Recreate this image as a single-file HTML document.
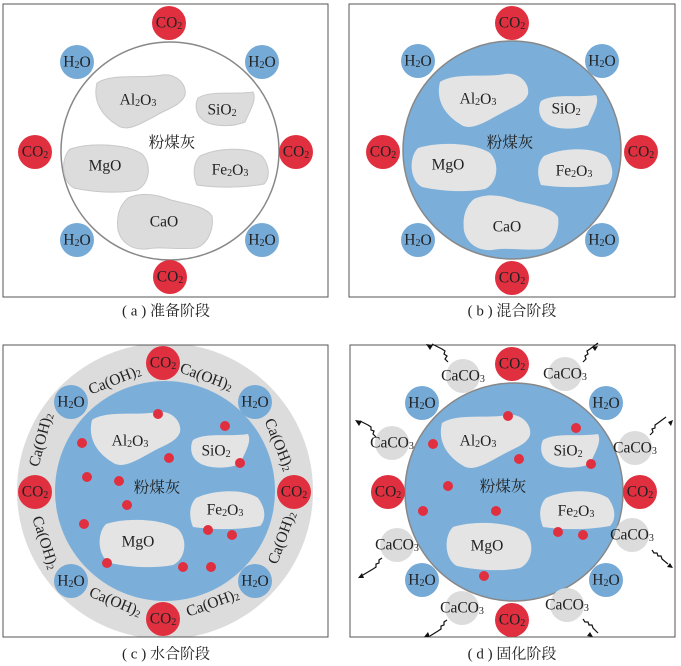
<!DOCTYPE html>
<html><head><meta charset="utf-8"><style>
html,body{margin:0;padding:0;background:#fff;width:681px;height:666px;overflow:hidden}
svg{display:block}
text{font-family:"Liberation Serif","Noto Serif CJK SC",serif;font-size:15.5px;fill:#222;text-anchor:middle;dominant-baseline:middle}
.cap{font-size:15px}
.s{font-size:10px}
</style></head><body>
<svg width="681" height="666" viewBox="0 0 681 666" xmlns="http://www.w3.org/2000/svg">
<defs>
<clipPath id="cb"><rect x="3" y="345" width="325" height="292"/></clipPath>
<path id="al" d="M5,10 C20,0 50,6 70,2 C85,0 95,12 93,22 C90,32 75,36 65,42 C50,50 35,60 25,52 C12,44 0,30 5,10Z"/>
<path id="si" d="M3,8 C15,0 40,5 58,2 C62,10 55,20 50,32 C35,38 15,36 8,30 C0,24 0,14 3,8Z"/>
<path id="mg" d="M8,5 C30,-2 65,0 80,10 C90,20 88,40 75,46 C55,50 30,48 12,44 C0,38 -2,15 8,5Z"/>
<path id="fe" d="M8,8 C25,0 55,-2 70,8 C78,18 78,30 72,36 C50,40 25,40 5,37 C0,25 2,14 8,8Z"/>
<path id="ca" d="M12,4 C25,-2 40,0 55,6 C70,10 90,12 96,22 C98,35 92,50 80,54 C60,56 45,52 30,55 C15,56 5,48 2,36 C0,20 5,10 12,4Z"/>
<g id="co2"><circle r="17" fill="#e03040"/><text y="1">CO<tspan class="s" dy="3">2</tspan></text></g>
<g id="h2o"><circle r="17" fill="#75a9d6"/><text y="1">H<tspan class="s" dy="3">2</tspan><tspan dy="-3">O</tspan></text></g>
<g id="cc"><circle r="17" fill="#dcdcdc"/><text y="1">CaCO<tspan class="s" dy="3">3</tspan></text></g>
<circle id="d" r="5" fill="#e03040"/>
</defs>

<!-- Panel a -->
<rect x="3" y="4" width="325" height="293" fill="#fff" stroke="#555" stroke-width="1"/>
<circle cx="170" cy="151" r="109" fill="#fff" stroke="#888" stroke-width="1.5"/>
<use href="#al" x="92" y="73" fill="#dcdcdc" stroke="#c8c8c8"/>
<use href="#si" x="195" y="90" fill="#dcdcdc" stroke="#c8c8c8"/>
<use href="#mg" x="62" y="144" fill="#dcdcdc" stroke="#c8c8c8"/>
<use href="#fe" x="192" y="148" fill="#dcdcdc" stroke="#c8c8c8"/>
<use href="#ca" x="116" y="194" fill="#dcdcdc" stroke="#c8c8c8"/>
<text x="138" y="101">Al<tspan class="s" dy="3">2</tspan><tspan dy="-3">O</tspan><tspan class="s" dy="3">3</tspan></text>
<text x="222" y="111">SiO<tspan class="s" dy="3">2</tspan></text>
<text x="105" y="167">MgO</text>
<text x="230" y="171">Fe<tspan class="s" dy="3">2</tspan><tspan dy="-3">O</tspan><tspan class="s" dy="3">3</tspan></text>
<text x="164" y="223">CaO</text>
<text x="172" y="144">粉煤灰</text>
<use href="#co2" x="169" y="23"/><use href="#co2" x="35" y="152"/><use href="#co2" x="296" y="152"/><use href="#co2" x="170" y="277"/>
<use href="#h2o" x="77" y="62"/><use href="#h2o" x="262" y="62"/><use href="#h2o" x="77" y="240"/><use href="#h2o" x="262" y="240"/>
<text class="cap" x="166" y="312">( a )  准备阶段</text>

<!-- Panel b -->
<rect x="349" y="4" width="326" height="293" fill="#fff" stroke="#555"/>
<circle cx="512" cy="150" r="109" fill="#7bafd9" stroke="#888" stroke-width="1.5"/>
<use href="#al" x="435" y="72" fill="#e4e4e4"/>
<use href="#si" x="538" y="93" fill="#e4e4e4"/>
<use href="#mg" x="410" y="143" fill="#e4e4e4"/>
<use href="#fe" x="536" y="148" fill="#e4e4e4"/>
<use href="#ca" x="462" y="195" fill="#e4e4e4"/>
<text x="478" y="100">Al<tspan class="s" dy="3">2</tspan><tspan dy="-3">O</tspan><tspan class="s" dy="3">3</tspan></text>
<text x="566" y="110">SiO<tspan class="s" dy="3">2</tspan></text>
<text x="448" y="166">MgO</text>
<text x="574" y="172">Fe<tspan class="s" dy="3">2</tspan><tspan dy="-3">O</tspan><tspan class="s" dy="3">3</tspan></text>
<text x="507" y="228">CaO</text>
<text x="510" y="144">粉煤灰</text>
<use href="#co2" x="512" y="23"/><use href="#co2" x="383" y="152"/><use href="#co2" x="641" y="152"/><use href="#co2" x="512" y="278"/>
<use href="#h2o" x="418" y="61"/><use href="#h2o" x="602" y="61"/><use href="#h2o" x="418" y="240"/><use href="#h2o" x="602" y="240"/>
<text class="cap" x="512" y="312">( b ) 混合阶段</text>

<!-- Panel c -->
<rect x="3" y="345" width="325" height="292" fill="#fff"/>
<circle cx="165" cy="491" r="148" fill="#dcdcdc" clip-path="url(#cb)"/>
<rect x="3" y="345" width="325" height="292" fill="none" stroke="#555"/>
<circle cx="165" cy="491" r="110" fill="#7bafd9"/>
<use href="#al" x="87" y="410" fill="#e4e4e4"/>
<use href="#si" x="190" y="432" fill="#e4e4e4"/>
<use href="#fe" x="188" y="490" fill="#e4e4e4"/>
<use href="#mg" x="98" y="519" fill="#e4e4e4"/>
<text x="130" y="442">Al<tspan class="s" dy="3">2</tspan><tspan dy="-3">O</tspan><tspan class="s" dy="3">3</tspan></text>
<text x="216" y="452">SiO<tspan class="s" dy="3">2</tspan></text>
<text x="225" y="511">Fe<tspan class="s" dy="3">2</tspan><tspan dy="-3">O</tspan><tspan class="s" dy="3">3</tspan></text>
<text x="138" y="543">MgO</text>
<text x="157" y="489">粉煤灰</text>
<use href="#d" x="158" y="414"/><use href="#d" x="82" y="443"/><use href="#d" x="169" y="458"/><use href="#d" x="87" y="477"/><use href="#d" x="119" y="481"/><use href="#d" x="127" y="505"/><use href="#d" x="84" y="524"/><use href="#d" x="225" y="426"/><use href="#d" x="240" y="463"/><use href="#d" x="208" y="530"/><use href="#d" x="232" y="535"/><use href="#d" x="107" y="563"/><use href="#d" x="183" y="567"/><use href="#d" x="211" y="567"/>
<use href="#co2" x="163" y="363"/><use href="#co2" x="35" y="492"/><use href="#co2" x="294" y="492"/><use href="#co2" x="163" y="619"/>
<use href="#h2o" x="71" y="402"/><use href="#h2o" x="255" y="402"/><use href="#h2o" x="71" y="581"/><use href="#h2o" x="255" y="581"/>
<text transform="translate(115,381) rotate(-22)">Ca(OH)<tspan class="s" dy="3">2</tspan></text>
<text transform="translate(206,378) rotate(20)">Ca(OH)<tspan class="s" dy="3">2</tspan></text>
<text transform="translate(278,445) rotate(68)">Ca(OH)<tspan class="s" dy="3">2</tspan></text>
<text transform="translate(283,538) rotate(-70)">Ca(OH)<tspan class="s" dy="3">2</tspan></text>
<text transform="translate(42,440) rotate(-75)">Ca(OH)<tspan class="s" dy="3">2</tspan></text>
<text transform="translate(44,543) rotate(72)">Ca(OH)<tspan class="s" dy="3">2</tspan></text>
<text transform="translate(115,603) rotate(22)">Ca(OH)<tspan class="s" dy="3">2</tspan></text>
<text transform="translate(213,604) rotate(-20)">Ca(OH)<tspan class="s" dy="3">2</tspan></text>
<text class="cap" x="166" y="655">( c )  水合阶段</text>

<!-- Panel d -->
<rect x="350" y="345" width="325" height="292" fill="#fff" stroke="#555"/>
<circle cx="514" cy="492" r="109" fill="#7bafd9" stroke="#888" stroke-width="1.5"/>
<use href="#al" x="437" y="413" fill="#e4e4e4"/>
<use href="#si" x="540" y="432" fill="#e4e4e4"/>
<use href="#fe" x="538" y="490" fill="#e4e4e4"/>
<use href="#mg" x="445" y="522" fill="#e4e4e4"/>
<text x="478" y="442">Al<tspan class="s" dy="3">2</tspan><tspan dy="-3">O</tspan><tspan class="s" dy="3">3</tspan></text>
<text x="568" y="452">SiO<tspan class="s" dy="3">2</tspan></text>
<text x="576" y="512">Fe<tspan class="s" dy="3">2</tspan><tspan dy="-3">O</tspan><tspan class="s" dy="3">3</tspan></text>
<text x="487" y="547">MgO</text>
<text x="503" y="488">粉煤灰</text>
<use href="#d" x="508" y="416"/><use href="#d" x="433" y="444"/><use href="#d" x="519" y="459"/><use href="#d" x="576" y="428"/><use href="#d" x="591" y="464"/><use href="#d" x="448" y="486"/><use href="#d" x="423" y="511"/><use href="#d" x="496" y="511"/><use href="#d" x="558" y="532"/><use href="#d" x="583" y="535"/><use href="#d" x="484" y="576"/>
<use href="#co2" x="512" y="364"/><use href="#co2" x="388" y="492"/><use href="#co2" x="640" y="492"/><use href="#co2" x="512" y="620"/>
<use href="#h2o" x="422" y="403"/><use href="#h2o" x="606" y="403"/><use href="#h2o" x="422" y="580"/><use href="#h2o" x="606" y="580"/>
<use href="#cc" x="463" y="376"/><use href="#cc" x="565" y="374"/><use href="#cc" x="392" y="443"/><use href="#cc" x="635" y="448"/><use href="#cc" x="397" y="545"/><use href="#cc" x="632" y="535"/><use href="#cc" x="462" y="608"/><use href="#cc" x="567" y="605"/>
<g stroke="#111" stroke-width="1.2" fill="none">
<path d="M448,362 l-3,-3 l2,-3 l-3,-2 l1,-3 l-3,-2 l-10,-5"/>
<path d="M583,362 l3,-3 l-1,-3 l3,-2 l-1,-3 l3,-2 l8,-6"/>
<path d="M376,437 l-3,-3 l1,-3 l-3,-1 l0,-3 l-3,-2 l-8,-4"/>
<path d="M650,435 l3,-3 l-1,-3 l3,-1 l0,-3 l3,-2 l8,-6"/>
<path d="M382,558 l-3,2 l0,3 l-3,1 l0,3 l-3,2 l-10,6"/>
<path d="M652,550 l2,3 l3,0 l1,3 l3,0 l1,3 l6,5"/>
<path d="M447,620 l-3,2 l0,3 l-3,1 l0,3 l-3,2 l-8,5"/>
<path d="M583,619 l2,3 l3,0 l1,3 l3,0 l1,3 l5,5"/>
</g>
<g fill="#111">
<path d="M426,344 l7,1 l-3,5Z"/><path d="M598,346 l-3,5 l-3,-4Z"/>
<path d="M355,420 l7,1 l-3,5Z"/><path d="M673,420 l-2,6 l-3,-4Z"/>
<path d="M358,578 l4,-5 l2,5Z"/><path d="M673,568 l-6,-1 l3,-4Z"/>
<path d="M424,637 l4,-5 l2,5Z"/><path d="M593,637 l-6,-1 l3,-4Z"/>
</g>
<text class="cap" x="512" y="655">( d ) 固化阶段</text>
</svg>
</body></html>
